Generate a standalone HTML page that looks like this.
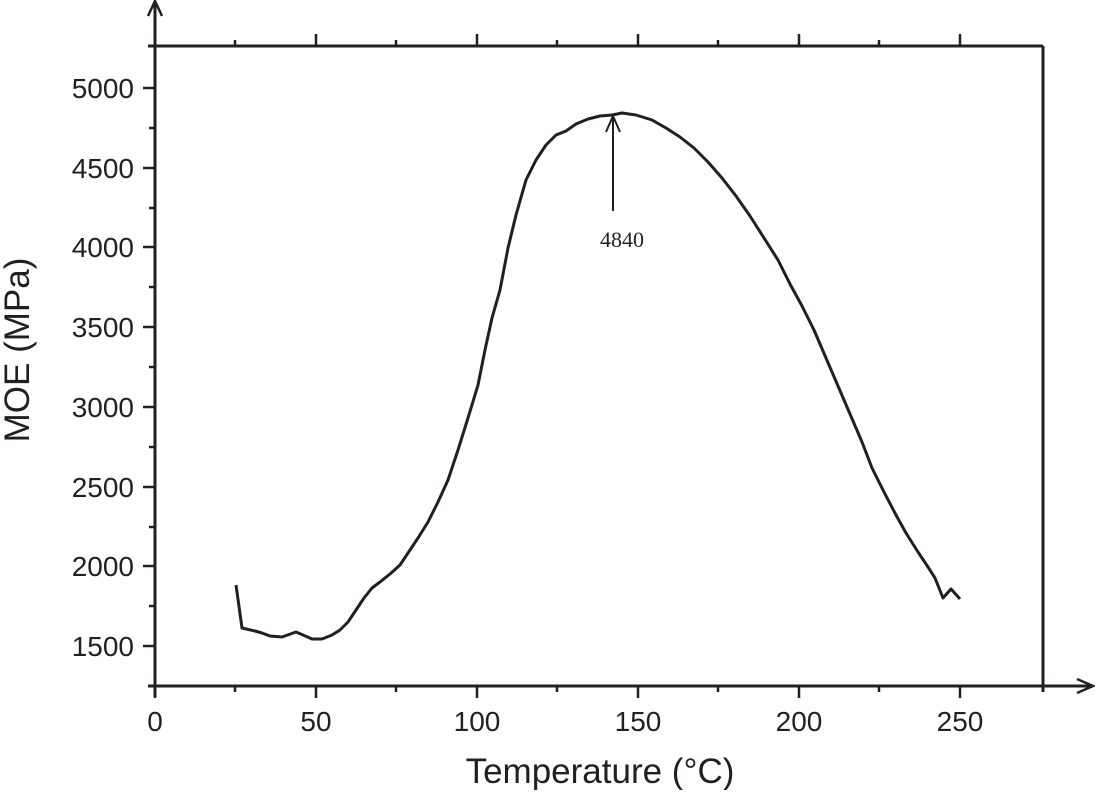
<!DOCTYPE html>
<html><head><meta charset="utf-8"><style>html,body{margin:0;padding:0;background:#fff}</style></head>
<body>
<svg width="1095" height="790" xmlns="http://www.w3.org/2000/svg" font-family="Liberation Sans, sans-serif" fill="#231f20">
<g stroke="#231f20" stroke-width="3" fill="none">
<line x1="155" y1="4" x2="155" y2="697"/>
<line x1="148" y1="686" x2="1090" y2="686"/>
<line x1="148" y1="46" x2="1043" y2="46"/>
<line x1="1043" y1="46" x2="1043" y2="692"/>
<path d="M148,16 L155,1 L162,16" stroke-width="2.5"/>
<path d="M1077,679 L1093,686 L1077,693" stroke-width="2.5"/>
</g>
<g stroke="#231f20" stroke-width="2.5">
<line x1="235" y1="686" x2="235" y2="692"/><line x1="316" y1="686" x2="316" y2="698"/>
<line x1="396" y1="686" x2="396" y2="692"/><line x1="477" y1="686" x2="477" y2="698"/>
<line x1="557" y1="686" x2="557" y2="692"/><line x1="638" y1="686" x2="638" y2="698"/>
<line x1="718" y1="686" x2="718" y2="692"/><line x1="799" y1="686" x2="799" y2="698"/>
<line x1="879" y1="686" x2="879" y2="692"/><line x1="960" y1="686" x2="960" y2="698"/>
<line x1="155" y1="686" x2="155" y2="698"/>
<line x1="235" y1="46" x2="235" y2="40"/><line x1="316" y1="46" x2="316" y2="34"/>
<line x1="396" y1="46" x2="396" y2="40"/><line x1="477" y1="46" x2="477" y2="34"/>
<line x1="557" y1="46" x2="557" y2="40"/><line x1="638" y1="46" x2="638" y2="34"/>
<line x1="718" y1="46" x2="718" y2="40"/><line x1="799" y1="46" x2="799" y2="34"/>
<line x1="879" y1="46" x2="879" y2="40"/><line x1="960" y1="46" x2="960" y2="34"/>
<line x1="143" y1="88" x2="155" y2="88"/><line x1="149" y1="128" x2="155" y2="128"/>
<line x1="143" y1="168" x2="155" y2="168"/><line x1="149" y1="208" x2="155" y2="208"/>
<line x1="143" y1="247" x2="155" y2="247"/><line x1="149" y1="287" x2="155" y2="287"/>
<line x1="143" y1="327" x2="155" y2="327"/><line x1="149" y1="367" x2="155" y2="367"/>
<line x1="143" y1="407" x2="155" y2="407"/><line x1="149" y1="447" x2="155" y2="447"/>
<line x1="143" y1="487" x2="155" y2="487"/><line x1="149" y1="527" x2="155" y2="527"/>
<line x1="143" y1="566" x2="155" y2="566"/><line x1="149" y1="606" x2="155" y2="606"/>
<line x1="143" y1="646" x2="155" y2="646"/>
</g>
<g font-size="28" text-anchor="end">
<text x="134" y="98">5000</text><text x="134" y="178">4500</text><text x="134" y="257">4000</text>
<text x="134" y="337">3500</text><text x="134" y="417">3000</text><text x="134" y="497">2500</text>
<text x="134" y="576">2000</text><text x="134" y="656">1500</text>
</g>
<g font-size="28" text-anchor="middle">
<text x="155" y="731">0</text><text x="316" y="731">50</text><text x="477" y="731">100</text>
<text x="638" y="731">150</text><text x="799" y="731">200</text><text x="960" y="731">250</text>
</g>
<text x="600" y="783" font-size="35" text-anchor="middle">Temperature (°C)</text>
<text transform="translate(29,350) rotate(-90)" font-size="35" text-anchor="middle">MOE (MPa)</text>
<polyline fill="none" stroke="#231f20" stroke-width="3" stroke-linejoin="round" points="236,585 242,628 255,631 262,633 270,636 282,637 296,632 303,635 312,639 322,639 332,635 340,630 348,622 356,610 364,598 372,588 380,582 390,574 400,565 408,553 418,538 428,522 438,502 448,480 458,450 468,418 478,385 485,350 492,318 500,290 508,248 516,215 526,180 536,160 546,145 556,135 566,131 576,124 588,119 600,116 612,115 622,113 636,115 652,120 666,128 680,137 694,148 708,162 722,178 736,196 750,216 764,238 778,260 790,284 802,306 814,330 826,358 838,386 850,414 862,442 872,468 884,492 896,515 906,533 918,552 928,567 935,578 943,598 951,589 960,599"/>
<line x1="613" y1="211" x2="613" y2="118" stroke="#231f20" stroke-width="2"/>
<path d="M606,132 L613,116 L620,132" fill="none" stroke="#231f20" stroke-width="2"/>
<text x="622" y="247" font-family="Liberation Serif, serif" font-size="22" text-anchor="middle">4840</text>
</svg>
</body></html>
